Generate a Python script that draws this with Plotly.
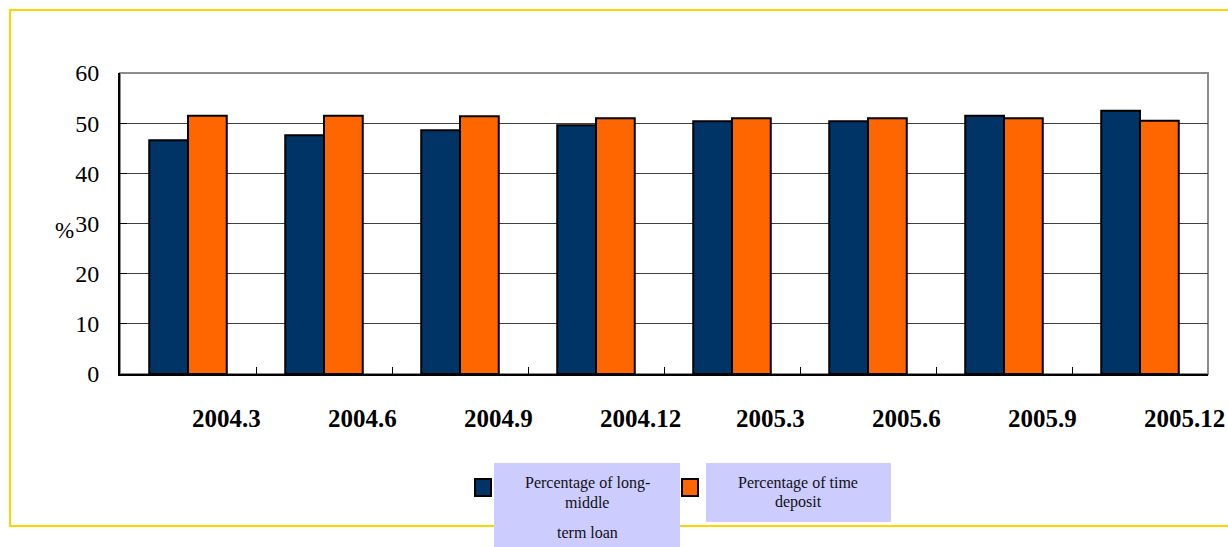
import plotly.graph_objects as go

categories = ["2004.3", "2004.6", "2004.9", "2004.12", "2005.3", "2005.6", "2005.9", "2005.12"]
loan_pct = [46.6, 47.6, 48.6, 49.6, 50.4, 50.4, 51.5, 52.5]
deposit_pct = [51.5, 51.5, 51.4, 51.0, 51.0, 51.0, 51.0, 50.5]
series_names = ["Percentage of long-middle term loan", "Percentage of time deposit"]
yticks = [0, 10, 20, 30, 40, 50, 60]

BLUE = "#003366"
ORANGE = "#FF6600"
LAVENDER = "#CCCCFF"
YELLOW = "#FFD500"
SERIF = "Liberation Serif, Times New Roman, serif"

W, H = 1228, 547
L, R, T, B = 120, 20, 73, 173
PW = W - L - R
PH = H - T - B


def px(x):
    return (x - L) / PW


def py(y):
    return (H - B - y) / PH


fig = go.Figure()
fig.add_trace(go.Bar(x=categories, y=loan_pct, name=series_names[0],
                     marker=dict(color=BLUE, line=dict(color="black", width=2))))
fig.add_trace(go.Bar(x=categories, y=deposit_pct, name=series_names[1],
                     marker=dict(color=ORANGE, line=dict(color="black", width=2))))

shapes = []
# outer yellow frame
shapes.append(dict(type="rect", xref="paper", yref="paper",
                   x0=px(10), x1=px(1240), y0=py(526), y1=py(10),
                   line=dict(color=YELLOW, width=2), fillcolor="rgba(0,0,0,0)", layer="below"))
# gray top/right plot border
shapes.append(dict(type="rect", xref="paper", yref="paper", x0=0, x1=1, y0=0, y1=1,
                   line=dict(color="#8c8c8c", width=2), layer="below"))
# legend lavender boxes
shapes.append(dict(type="rect", xref="paper", yref="paper",
                   x0=px(494), x1=px(680), y0=py(547), y1=py(463),
                   line=dict(width=0), fillcolor=LAVENDER))
shapes.append(dict(type="rect", xref="paper", yref="paper",
                   x0=px(706), x1=px(891), y0=py(522), y1=py(463),
                   line=dict(width=0), fillcolor=LAVENDER))
# legend swatches
shapes.append(dict(type="rect", xref="paper", yref="paper",
                   x0=px(475), x1=px(491), y0=py(496), y1=py(479),
                   line=dict(color="black", width=2), fillcolor=BLUE))
shapes.append(dict(type="rect", xref="paper", yref="paper",
                   x0=px(682), x1=px(698), y0=py(496), y1=py(479),
                   line=dict(color="black", width=2), fillcolor=ORANGE))

annotations = []
for i, c in enumerate(categories):
    annotations.append(dict(x=i, y=py(418), xref="x", yref="paper", text=f"<b>{c}</b>",
                            showarrow=False, xanchor="left", yanchor="middle", xshift=2,
                            font=dict(family=SERIF, size=25, color="black")))
annotations.append(dict(x=px(64), y=py(230), xref="paper", yref="paper", text="%",
                        showarrow=False, xanchor="center", yanchor="middle",
                        font=dict(family=SERIF, size=23, color="black")))
leg_font = dict(family=SERIF, size=16, color="#111")
for txt, xx, yy in [("Percentage of long-", 587, 483), ("middle", 587, 502), ("term loan", 587, 532),
                    ("Percentage of time", 798, 483), ("deposit", 798, 502)]:
    annotations.append(dict(x=px(xx), y=py(yy), xref="paper", yref="paper", text=txt,
                            showarrow=False, xanchor="center", yanchor="middle", font=leg_font))

fig.update_layout(
    width=W, height=H,
    margin=dict(l=L, r=R, t=T, b=B),
    paper_bgcolor="white", plot_bgcolor="white",
    barmode="group", bargap=0.43, bargroupgap=0,
    showlegend=False,
    shapes=shapes, annotations=annotations,
)
fig.update_xaxes(type="category", range=[-0.5, len(categories) - 0.5],
                 showticklabels=False, ticks="inside", ticklen=7, tickcolor="black",
                 tickson="boundaries", showline=True, linecolor="black", linewidth=2,
                 showgrid=False)
fig.update_yaxes(range=[0, 60], tickvals=yticks, ticks="inside", ticklen=7, tickcolor="black",
                 showline=True, linecolor="black", linewidth=2,
                 showgrid=True, gridcolor="#404040", gridwidth=1,
                 tickfont=dict(family=SERIF, size=24, color="black"), ticklabelstandoff=14,
                 zeroline=False)

fig.write_html("out.html", config={"displayModeBar": False},
               post_script="document.body.style.margin='0';document.body.style.overflow='hidden';")
